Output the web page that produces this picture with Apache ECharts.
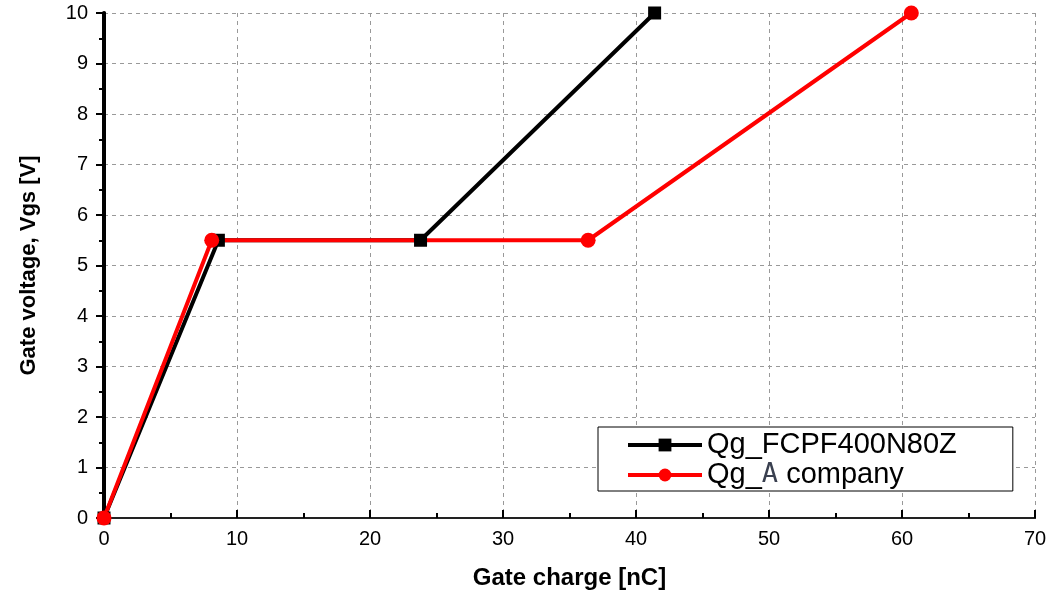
<!DOCTYPE html>
<html>
<head>
<meta charset="utf-8">
<script src="https://cdn.jsdelivr.net/npm/echarts@6/dist/echarts.min.js"></script>
<style>
  html, body { margin: 0; padding: 0; background: #fff; }
  #chart { width: 1052px; height: 593px; }
</style>
</head>
<body>
<div id="chart"></div>
<script>
var fcpfCharge = [0, 8.6, 23.8, 41.4];
var fcpfVoltage = [0, 5.5, 5.5, 10];
var companyCharge = [0, 8.1, 36.4, 60.7];
var companyVoltage = [0, 5.5, 5.5, 10];

function pairs(xs, ys) {
    return xs.map(function (x, i) { return [x, ys[i]]; });
}

var font = 'Liberation Sans, Arial, sans-serif';
var myChart = echarts.init(document.getElementById('chart'));
myChart.setOption({
    animation: false,
    grid: { left: 104, right: 17, top: 13, bottom: 75, outerBoundsMode: 'none', containLabel: false },
    legend: {
        orient: 'vertical',
        left: 598,
        top: 427,
        itemWidth: 74,
        itemHeight: 16,
        itemGap: 0,
        padding: [3, 56, 1, 28],
        backgroundColor: '#fff',
        borderColor: '#000',
        borderWidth: 1,
        borderRadius: 0,
        textStyle: {
            fontFamily: font,
            fontSize: 29,
            lineHeight: 30,
            color: '#000',
            rich: {
                a: { fontFamily: 'DejaVu Sans Mono', fontSize: 27, lineHeight: 30, color: '#3a4050' },
                n: { fontFamily: font, fontSize: 29, lineHeight: 30, color: '#000' }
            }
        },
        formatter: function (name) {
            if (name === 'Qg_A company') {
                return '{n|Qg_}{a|A}{n| company}';
            }
            return name;
        },
        data: [
            { name: 'Qg_FCPF400N80Z', lineStyle: { width: 4 } },
            { name: 'Qg_A company', lineStyle: { width: 4 } }
        ]
    },
    xAxis: [
        {
            type: 'value',
            min: 0,
            max: 70,
            interval: 10,
            name: 'Gate charge [nC]',
            nameLocation: 'middle',
            nameGap: 48,
            nameTextStyle: { fontFamily: font, fontSize: 24, fontWeight: 'bold', color: '#000' },
            axisLine: { show: true, lineStyle: { color: '#000', width: 2 } },
            axisTick: { show: true, inside: true, length: 8, lineStyle: { color: '#000', width: 2 } },
            minorTick: { show: true, splitNumber: 2, length: 5, lineStyle: { color: '#000', width: 2 } },
            axisLabel: { fontFamily: font, fontSize: 20, color: '#000', margin: 11 },
            splitLine: { show: true, lineStyle: { color: '#999', type: [4, 4], width: 1 } }
        },
        {
            type: 'value',
            position: 'top',
            min: 0,
            max: 70,
            interval: 10,
            axisLine: { show: true, lineStyle: { color: '#222', width: 2 } },
            axisTick: { show: false },
            axisLabel: { show: false },
            splitLine: { show: false }
        }
    ],
    yAxis: [
        {
            type: 'value',
            min: 0,
            max: 10,
            interval: 1,
            name: 'Gate voltage, Vgs [V]',
            nameLocation: 'middle',
            nameGap: 64,
            nameTextStyle: { fontFamily: font, fontSize: 22, fontWeight: 'bold', color: '#000' },
            axisLine: { show: true, lineStyle: { color: '#000', width: 3 } },
            axisTick: { show: true, inside: false, length: 8, lineStyle: { color: '#000', width: 2 } },
            minorTick: { show: true, splitNumber: 2, length: 5, lineStyle: { color: '#000', width: 2 } },
            axisLabel: { fontFamily: font, fontSize: 20, color: '#000', margin: 16 },
            splitLine: { show: true, lineStyle: { color: '#999', type: [4, 4], width: 1 } }
        },
        {
            type: 'value',
            position: 'right',
            min: 0,
            max: 10,
            interval: 1,
            axisLine: { show: true, lineStyle: { color: '#000', width: 4 } },
            axisTick: { show: false },
            axisLabel: { show: false },
            splitLine: { show: false }
        }
    ],
    series: [
        {
            name: 'Qg_FCPF400N80Z',
            type: 'line',
            data: pairs(fcpfCharge, fcpfVoltage),
            symbol: 'rect',
            symbolSize: 13,
            lineStyle: { color: '#000', width: 4 },
            itemStyle: { color: '#000' }
        },
        {
            name: 'Qg_A company',
            type: 'line',
            data: pairs(companyCharge, companyVoltage),
            symbol: 'circle',
            symbolSize: 15,
            lineStyle: { color: '#ff0000', width: 4 },
            itemStyle: { color: '#ff0000' }
        }
    ]
});
</script>
</body>
</html>
